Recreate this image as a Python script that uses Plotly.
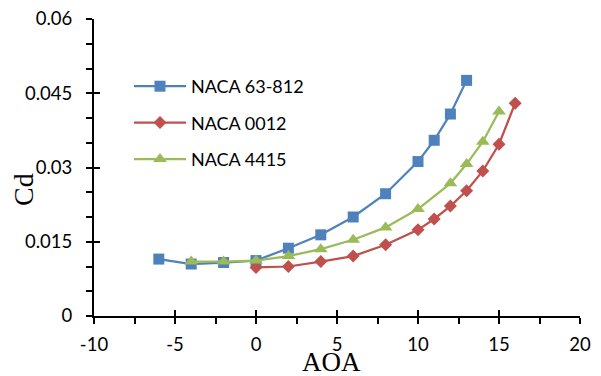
import plotly.graph_objects as go

# Data
aoa_63812 = [-6, -4, -2, 0, 2, 4, 6, 8, 10, 11, 12, 13]
cd_63812 = [0.0115, 0.0105, 0.0108, 0.0112, 0.0137, 0.0164, 0.0200, 0.0247, 0.0312, 0.0355, 0.0408, 0.0476]

aoa_0012 = [0, 2, 4, 6, 8, 10, 11, 12, 13, 14, 15, 16]
cd_0012 = [0.0098, 0.0100, 0.0110, 0.0121, 0.0144, 0.0174, 0.0196, 0.0222, 0.0253, 0.0293, 0.0347, 0.0430]

aoa_4415 = [-4, -2, 0, 2, 4, 6, 8, 10, 12, 13, 14, 15]
cd_4415 = [0.0110, 0.0110, 0.0112, 0.0121, 0.0135, 0.0154, 0.0179, 0.0216, 0.0268, 0.0307, 0.0352, 0.0413]

names = ["NACA 63-812", "NACA 0012", "NACA 4415"]
colors = ["#4F81BD", "#C0504D", "#9BBB59"]
symbols = ["square", "diamond", "triangle-up"]
msizes = [11, 10, 12]

x_ticks = [-10, -5, 0, 5, 10, 15, 20]
x_tick_text = ["-10", "-5", "0", "5", "10", "15", "20"]
y_ticks = [0, 0.015, 0.03, 0.045, 0.06]
y_tick_text = ["0", "0.015", "0.03", "0.045", "0.06"]

fig = go.Figure()
series = [(aoa_63812, cd_63812), (aoa_0012, cd_0012), (aoa_4415, cd_4415)]
for i, (xs, ys) in enumerate(series):
    fig.add_trace(go.Scatter(
        x=xs, y=ys, name=names[i], mode="lines+markers",
        legendgroup=names[i],
        line=dict(color=colors[i], width=2.25),
        marker=dict(symbol=symbols[i], size=msizes[i], color=colors[i],
                    line=dict(width=0)),
    ))

tickfont = dict(family="Lato", size=18.5, color="black")

common_x = dict(range=[-10, 20], tickvals=x_ticks, ticktext=x_tick_text,
                showgrid=False, zeroline=False, automargin=False,
                linecolor="black", linewidth=2, tickcolor="black", tickwidth=2,
                ticklen=6,
                minor=dict(dtick=2.5, ticklen=6, tickwidth=2, tickcolor="black"))
common_y = dict(range=[0, 0.06], tickvals=y_ticks, ticktext=y_tick_text,
                showgrid=False, zeroline=False, automargin=False,
                linecolor="black", linewidth=2, tickcolor="black", tickwidth=2,
                ticklen=6,
                minor=dict(dtick=0.005, ticklen=6, tickwidth=2, tickcolor="black"))

fig.update_layout(
    width=601, height=376,
    margin=dict(l=94, r=21, t=19, b=60, autoexpand=False),
    paper_bgcolor="white", plot_bgcolor="white",
    showlegend=True,
    legend=dict(x=0.072, y=0.835, xanchor="left", yanchor="top",
                font=dict(family="Lato", size=18, color="black"),
                bgcolor="rgba(0,0,0,0)", tracegroupgap=10, itemwidth=52),
    xaxis=dict(**common_x, ticks="outside", showline=True, tickfont=tickfont,
               ticklabelstandoff=5),
    yaxis=dict(**common_y, ticks="outside", showline=True, tickfont=tickfont,
               ticklabelstandoff=10),
    xaxis2=dict(**common_x, ticks="inside", showline=False, overlaying="x",
                anchor="y", side="bottom", showticklabels=False),
    yaxis2=dict(**common_y, ticks="inside", showline=False, overlaying="y",
                anchor="x", side="left", showticklabels=False),
    annotations=[
        dict(text="AOA", xref="paper", yref="paper", x=(331 - 94) / 486, y=-(362 - 316) / 297,
             showarrow=False, font=dict(family="Liberation Serif", size=27, color="black"),
             xanchor="center", yanchor="middle"),
        dict(text="Cd", xref="paper", yref="paper", x=-(94 - 24) / 486, y=(316 - 190) / 297,
             showarrow=False, textangle=-90,
             font=dict(family="Liberation Serif", size=28, color="black"),
             xanchor="center", yanchor="middle"),
    ],
)
# invisible trace on overlay axes so their inside ticks are drawn
fig.add_trace(go.Scatter(x=[-10], y=[0], xaxis="x2", yaxis="y2", showlegend=False,
                         mode="markers", marker=dict(opacity=0), hoverinfo="skip"))

fig.write_html("out.html", config={"displayModeBar": False},
               post_script="document.body.style.margin='0px';document.body.style.overflow='hidden';")
